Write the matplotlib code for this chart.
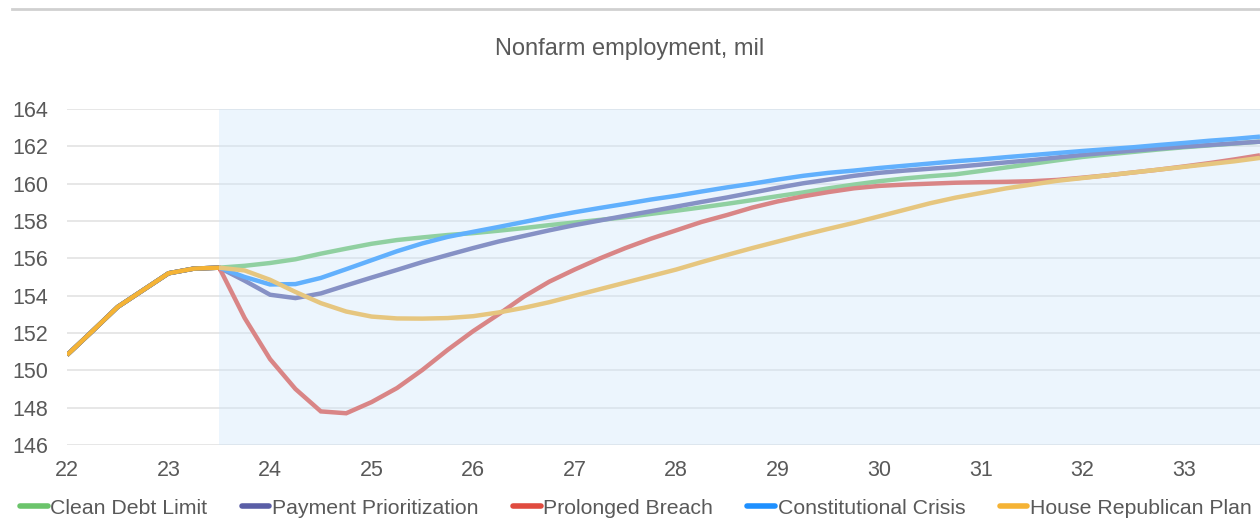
import matplotlib.pyplot as plt
from matplotlib.lines import Line2D
import numpy as np

plt.rcParams['font.family'] = ['Liberation Sans', 'DejaVu Sans']

# quarterly history, shared by all scenarios (22.0 .. 23.5)
history = [150.82, 152.1, 153.4, 154.3, 155.2, 155.45, 155.5]

# scenario paths, 23.75 .. 33.75 by quarter
clean_debt_limit = [155.6, 155.75, 155.95, 156.25, 156.52, 156.78, 156.98, 157.12, 157.25, 157.35,
                    157.48, 157.62, 157.78, 157.92, 158.06, 158.2, 158.38, 158.55, 158.73, 158.92,
                    159.12, 159.33, 159.53, 159.75, 159.95, 160.13, 160.28, 160.4, 160.5, 160.68,
                    160.87, 161.06, 161.25, 161.43, 161.57, 161.7, 161.83, 161.95, 162.05, 162.15, 162.25]
payment_prioritization = [154.8, 154.05, 153.87, 154.12, 154.55, 154.97, 155.38, 155.8, 156.18, 156.55,
                          156.9, 157.2, 157.5, 157.78, 158.03, 158.28, 158.52, 158.77, 159.02, 159.26,
                          159.52, 159.78, 160.02, 160.22, 160.42, 160.58, 160.7, 160.8, 160.9, 161.02,
                          161.14, 161.26, 161.4, 161.54, 161.66, 161.77, 161.88, 161.98, 162.07, 162.16, 162.25]
prolonged_breach = [152.8, 150.6, 149.0, 147.8, 147.7, 148.3, 149.05, 150.02, 151.1, 152.1,
                    153.0, 153.95, 154.75, 155.4, 156.0, 156.55, 157.05, 157.5, 157.95, 158.32,
                    158.72, 159.05, 159.32, 159.55, 159.75, 159.88, 159.95, 160.0, 160.05, 160.08,
                    160.1, 160.13, 160.2, 160.32, 160.45, 160.6, 160.75, 160.92, 161.1, 161.3, 161.52]
constitutional_crisis = [155.0, 154.6, 154.62, 154.95, 155.42, 155.9, 156.38, 156.8, 157.15, 157.42,
                         157.68, 157.95, 158.22, 158.47, 158.7, 158.92, 159.15, 159.35, 159.58, 159.8,
                         160.0, 160.22, 160.42, 160.58, 160.7, 160.84, 160.96, 161.08, 161.2, 161.3,
                         161.42, 161.53, 161.64, 161.75, 161.85, 161.95, 162.07, 162.18, 162.3, 162.4, 162.52]
house_republican_plan = [155.35, 154.85, 154.2, 153.6, 153.15, 152.88, 152.78, 152.77, 152.8, 152.9,
                         153.1, 153.35, 153.65, 154.0, 154.35, 154.7, 155.05, 155.4, 155.8, 156.18,
                         156.55, 156.9, 157.25, 157.58, 157.9, 158.25, 158.6, 158.95, 159.25, 159.5,
                         159.75, 159.95, 160.15, 160.3, 160.45, 160.6, 160.75, 160.9, 161.05, 161.2, 161.38]

labels = ['Clean Debt Limit', 'Payment Prioritization', 'Prolonged Breach',
          'Constitutional Crisis', 'House Republican Plan']
colors = ['#6bc46b', '#5a5ea6', '#e04b3f', '#1e90ff', '#f5b335']
scenarios = [clean_debt_limit, payment_prioritization, prolonged_breach,
             constitutional_crisis, house_republican_plan]

years = np.arange(len(history) + len(clean_debt_limit)) * 0.25 + 22
forecast_start = 23.5

fig = plt.figure(figsize=(12.6, 5.2), dpi=100)
ax = fig.add_axes([67 / 1260, 1 - 445 / 520, 1 - 67 / 1260, (445 - 109) / 520])

for vals, c, lab in zip(scenarios, colors, labels):
    ax.plot(years, history + vals, color=c, lw=3.2, label=lab,
            solid_capstyle='butt', solid_joinstyle='miter', zorder=3)

# forecast period shading sits over the lines and washes them out
ax.axvspan(forecast_start, 40, color='#cfe6fa', alpha=0.38, lw=0, zorder=4)

ax.set_xlim(22, 33.75)
ax.set_ylim(146, 164)
ax.set_yticks(np.arange(146, 165, 2))
ax.set_xticks(np.arange(22, 34, 1))
ax.grid(axis='y', color='#e3e3e3', lw=1.2, zorder=0)
ax.set_axisbelow(True)
for s in ax.spines.values():
    s.set_visible(False)
ax.tick_params(length=0, labelsize=15.5, labelcolor='#595959')
ax.tick_params(axis='y', pad=13.5)
ax.tick_params(axis='x', pad=11)

fig.text(0.5, 1 - 49 / 520, 'Nonfarm employment, mil', ha='center', va='center',
         fontsize=17, color='#595959')
fig.add_artist(Line2D([12 / 1260, 1], [1 - 9 / 520, 1 - 9 / 520], color='#d0d0d0', lw=2))

handles = [Line2D([0], [0], color=c, lw=4, solid_capstyle='round') for c in colors]
fig.legend(handles, labels, loc='center', bbox_to_anchor=(0.5046, 1 - 508 / 520), ncol=5,
           frameon=False, fontsize=15.3, labelcolor='#595959', handlelength=1.3,
           handletextpad=0.12, columnspacing=1.62, borderpad=0, borderaxespad=0)

fig.savefig('out.png', dpi=100)
